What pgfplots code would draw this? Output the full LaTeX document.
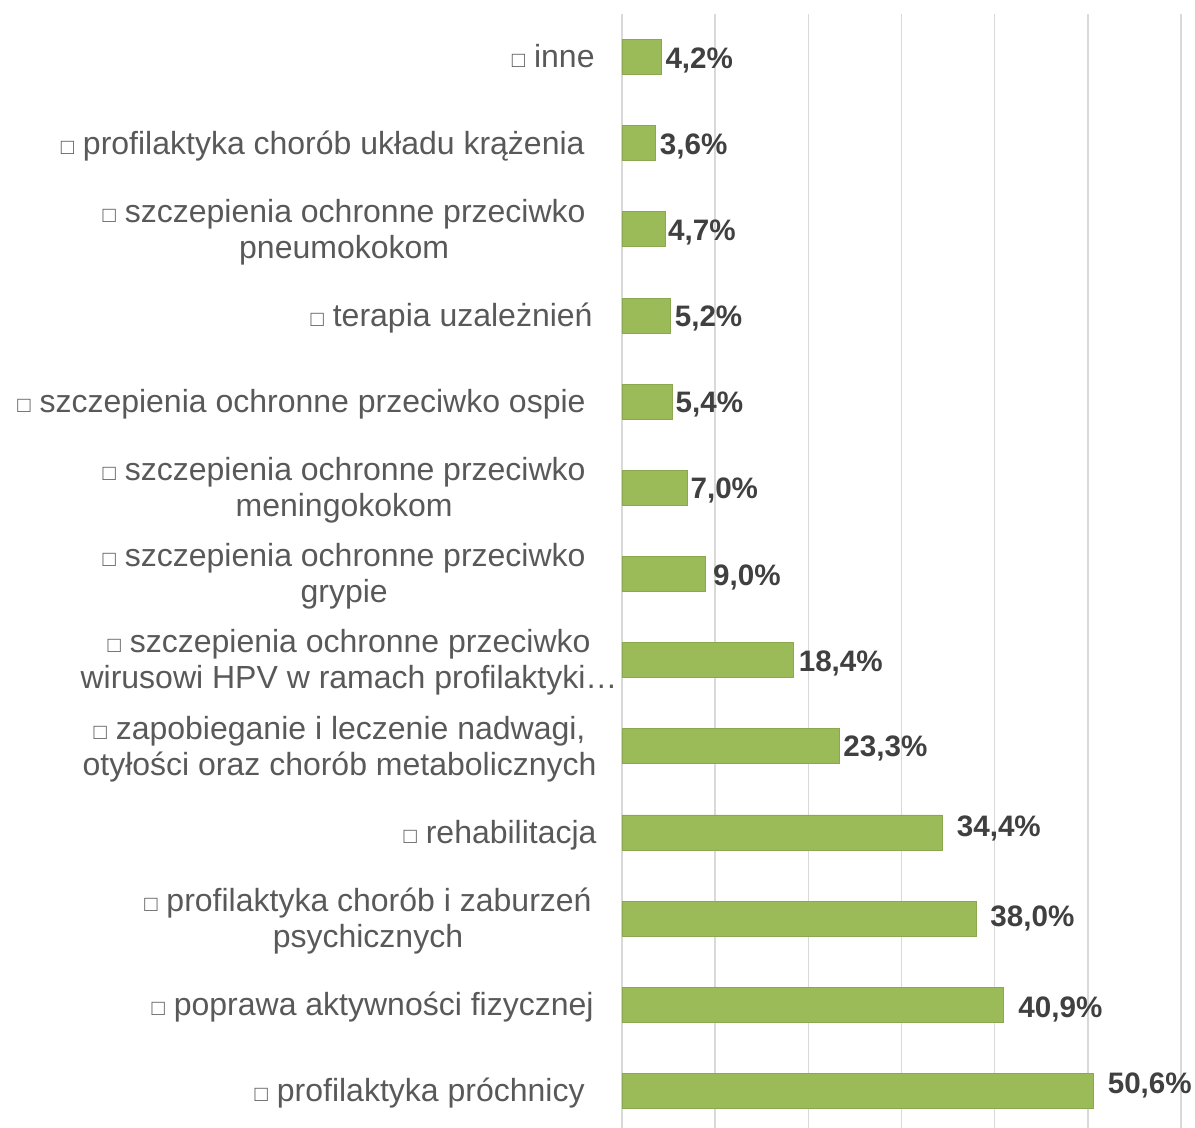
\documentclass[border=0pt]{standalone}
\usepackage{pgfplots}
\pgfplotsset{compat=1.18}
\usepackage{pgfplotstable}
\usepackage{fontspec}
\setmainfont{Liberation Sans}
\usetikzlibrary{calc}
\definecolor{barGreen}{HTML}{9BBB59}
\definecolor{labGray}{HTML}{595959}
\definecolor{valGray}{HTML}{404040}
\definecolor{gridGray}{HTML}{D9D9D9}

% #1 = shift to the left, #2 = label lines
\newcommand\lab[2]{\begin{tabular}{@{}c@{}}#2\end{tabular}\kern#1}
\newcommand\bx{{\fontsize{11}{11}\selectfont □}}

\pgfplotstableread{
y x dx dy
0 50.6 7 2.5
1 40.9 7.5 -2.5
2 38.0 7 0
3 34.4 7 2
4 23.3 2 -1
5 18.4 2.5 -1.5
6 9.0 3.5 -1.5
7 7.0 1.5 -1.5
8 5.4 1.5 -1.5
9 5.2 2 -1.5
10 4.7 1 -1.5
11 3.6 2 -1.5
12 4.2 2 -1.5
}\shares

\begin{document}
\begin{tikzpicture}
\begin{axis}[
  xbar, bar width=17.5pt,
  scale only axis,
  width=279.5pt, height=557pt,
  xmin=0, xmax=60,
  ymin=-0.43, ymax=12.5,
  axis line style={draw=none},
  xmajorgrids=true,
  grid style={line width=0.8pt, draw=gridGray},
  xtick={0,10,...,60},
  xticklabels={},
  ytick={0,...,12},
  major tick length=0pt,
  yticklabels={
    {\lab{6pt}{\bx{} profilaktyka próchnicy}},
    {\lab{1.5pt}{\bx{} poprawa aktywności fizycznej}},
    {\lab{2.5pt}{\bx{} profilaktyka chorób i zaburzeń\\psychicznych}},
    {\lab{0pt}{\bx{} rehabilitacja}},
    {\lab{0pt}{\bx{} zapobieganie i leczenie nadwagi,\\otyłości oraz chorób metabolicznych}},
    {\lab{-10.5pt}{\bx{} szczepienia ochronne przeciwko\\wirusowi HPV w ramach profilaktyki…}},
    {\lab{5.5pt}{\bx{} szczepienia ochronne przeciwko\\grypie}},
    {\lab{5.5pt}{\bx{} szczepienia ochronne przeciwko\\meningokokom}},
    {\lab{5.5pt}{\bx{} szczepienia ochronne przeciwko ospie}},
    {\lab{2pt}{\bx{} terapia uzależnień}},
    {\lab{5.5pt}{\bx{} szczepienia ochronne przeciwko\\pneumokokom}},
    {\lab{6pt}{\bx{} profilaktyka chorób układu krążenia}},
    {\lab{1pt}{\bx{} inne}}},
  yticklabel style={font=\fontsize{16}{18}\selectfont, text=labGray,
    anchor=east, inner sep=0pt, xshift=-12.5pt, yshift=-1.8pt},
  point meta=x,
  nodes near coords={\pgfmathprintnumber{\pgfplotspointmeta}\%},
  visualization depends on={\thisrow{dx} \as \dx},
  visualization depends on={\thisrow{dy} \as \dy},
  every node near coord/.append style={xshift=\dx*1pt, yshift=\dy*1pt},
  nodes near coords style={anchor=west, inner sep=0pt,
    font=\fontsize{14.8}{17}\selectfont\bfseries, text=valGray,
    /pgf/number format/fixed, /pgf/number format/fixed zerofill,
    /pgf/number format/precision=1, /pgf/number format/use comma,
    /pgf/number format/assume math mode=true},
]
\addplot[fill=barGreen, draw=barGreen!90!black, line width=0.4pt]
  table[x=x, y=y] {\shares};
\coordinate (o) at (rel axis cs:0,0);
\end{axis}
\pgfresetboundingbox
\path ($(o)+(-311pt,0)$) rectangle ($(o)+(286.5pt,564pt)$);
\end{tikzpicture}
\end{document}
